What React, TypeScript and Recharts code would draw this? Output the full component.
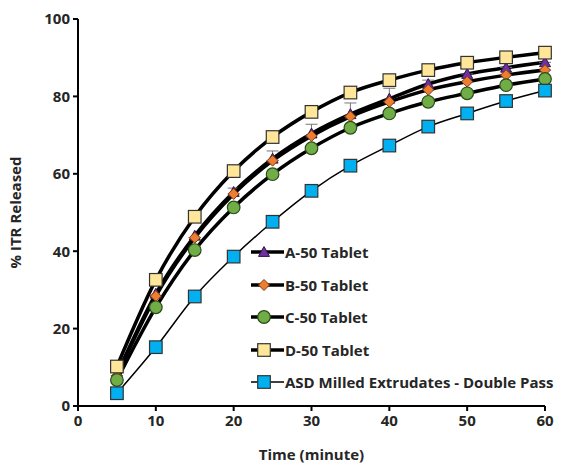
import React from 'react';
import { LineChart, Line, XAxis, YAxis, Legend, ErrorBar } from 'recharts';

const times = [5, 10, 15, 20, 25, 30, 35, 40, 45, 50, 55, 60];
const seriesA = [8.2, 29.0, 44.0, 55.3, 63.9, 70.4, 75.4, 79.4, 83.2, 85.8, 87.4, 88.8];
const seriesB = [7.8, 28.4, 43.5, 54.8, 63.4, 69.8, 74.8, 78.6, 81.7, 83.8, 85.5, 86.8];
const seriesC = [6.7, 25.5, 40.3, 51.3, 59.9, 66.6, 71.9, 75.6, 78.6, 80.8, 82.9, 84.5];
const seriesD = [10.2, 32.6, 48.9, 60.7, 69.5, 76.0, 81.0, 84.2, 86.8, 88.7, 90.1, 91.3];
const seriesASD = [3.3, 15.2, 28.3, 38.6, 47.6, 55.6, 62.1, 67.3, 72.2, 75.6, 78.8, 81.5];
const errUpB = [0, 0, 0, 1.5, 2.5, 3, 3.5, 3.5, 2.5, 2, 2, 2];
const seriesNames = ['A-50 Tablet', 'B-50 Tablet', 'C-50 Tablet', 'D-50 Tablet', 'ASD Milled Extrudates - Double Pass'];
const xTicks = [0, 10, 20, 30, 40, 50, 60];
const yTicks = [0, 20, 40, 60, 80, 100];

const data = times.map((t, i) => ({
  t,
  a: seriesA[i],
  b: seriesB[i],
  c: seriesC[i],
  d: seriesD[i],
  asd: seriesASD[i],
  bErr: [0, errUpB[i]],
}));

const FONT = "'Open Sans', 'DejaVu Sans', sans-serif";
const TEXT = '#262626';

type Shape = 'triangle' | 'diamond' | 'circle' | 'squareY' | 'squareB';

function Marker({ shape, cx, cy }: { shape: Shape; cx: number; cy: number }) {
  if (shape === 'triangle') {
    const s = 5.5;
    return (
      <polygon
        points={`${cx},${cy - s} ${cx + s},${cy + s * 0.8} ${cx - s},${cy + s * 0.8}`}
        fill="#7030A0"
        stroke="#2e1446"
        strokeWidth={1}
      />
    );
  }
  if (shape === 'diamond') {
    const s = 5.5;
    return (
      <polygon
        points={`${cx},${cy - s} ${cx + s},${cy} ${cx},${cy + s} ${cx - s},${cy}`}
        fill="#ED7D31"
        stroke="#7a3a10"
        strokeWidth={1}
      />
    );
  }
  if (shape === 'circle') {
    return <circle cx={cx} cy={cy} r={6.3} fill="#70AD47" stroke="#2b4a1a" strokeWidth={1.2} />;
  }
  const fill = shape === 'squareY' ? '#FFE699' : '#00B0F0';
  const h = 6.3;
  return <rect x={cx - h} y={cy - h} width={h * 2} height={h * 2} fill={fill} stroke="#333" strokeWidth={1.2} />;
}

const makeDot = (shape: Shape, prefix: string) => (props: any) => {
  const { cx, cy, index } = props;
  if (cx == null || cy == null) return <g key={`${prefix}-${index}`} />;
  return (
    <g key={`${prefix}-${index}`}>
      <Marker shape={shape} cx={cx} cy={cy} />
    </g>
  );
};

const legendShapes: Shape[] = ['triangle', 'diamond', 'circle', 'squareY', 'squareB'];
const legendWidths = [3.5, 3.5, 3.5, 3.5, 1.5];

function LegendContent() {
  return (
    <div style={{ width: 316 }}>
      {seriesNames.map((name, i) => (
        <div key={name} style={{ display: 'flex', alignItems: 'center', height: 32.5 }}>
          <svg width={34} height={20} style={{ flex: 'none' }}>
            <line x1={0} y1={10} x2={33} y2={10} stroke="#000" strokeWidth={legendWidths[i]} />
            <Marker shape={legendShapes[i]} cx={13} cy={10} />
          </svg>
          <span
            style={{
              fontFamily: FONT,
              fontWeight: 700,
              fontSize: 15,
              color: TEXT,
              whiteSpace: 'nowrap',
              marginLeft: 0,
            }}
          >
            {name}
          </span>
        </div>
      ))}
    </div>
  );
}

export default function App() {
  const tickStyle = { fill: TEXT, fontSize: 15, fontWeight: 700, fontFamily: FONT };
  return (
    <div style={{ position: 'absolute', left: 0, top: 0 }}>
      <LineChart
        width={567}
        height={466}
        data={data}
        margin={{ top: 19, right: 22, bottom: 0, left: 0 }}
      >
        <XAxis
          dataKey="t"
          type="number"
          domain={[0, 60]}
          ticks={xTicks}
          interval={0}
          stroke="#000"
          strokeWidth={2}
          tickSize={5}
          tickMargin={4}
          tick={tickStyle}
          height={60}
          label={{
            value: 'Time (minute)',
            position: 'insideBottom',
            offset: 6,
            style: { fill: TEXT, fontSize: 15, fontWeight: 700, fontFamily: FONT },
          }}
        />
        <YAxis
          type="number"
          domain={[0, 100]}
          ticks={yTicks}
          interval={0}
          stroke="#000"
          strokeWidth={2}
          tickSize={5}
          tickMargin={3}
          tick={tickStyle}
          width={78}
          label={{
            value: '% ITR Released',
            angle: -90,
            position: 'insideLeft',
            offset: 16,
            style: { fill: TEXT, fontSize: 15, fontWeight: 700, fontFamily: FONT, textAnchor: 'middle' },
          }}
        />
        <Legend
          layout="vertical"
          align="center"
          verticalAlign="middle"
          content={<LegendContent />}
          wrapperStyle={{ position: 'absolute', left: 251, top: 236, width: 316 }}
        />
        <Line
          dataKey="a"
          type="monotone"
          stroke="#000"
          strokeWidth={3.5}
          dot={makeDot('triangle', 'a')}
          activeDot={false}
          isAnimationActive={false}
        />
        <Line
          dataKey="b"
          type="monotone"
          stroke="#000"
          strokeWidth={3.5}
          dot={makeDot('diamond', 'b')}
          activeDot={false}
          isAnimationActive={false}
        >
          <ErrorBar dataKey="bErr" direction="y" width={6} stroke="#777" strokeWidth={1} />
        </Line>
        <Line
          dataKey="c"
          type="monotone"
          stroke="#000"
          strokeWidth={3.5}
          dot={makeDot('circle', 'c')}
          activeDot={false}
          isAnimationActive={false}
        />
        <Line
          dataKey="d"
          type="monotone"
          stroke="#000"
          strokeWidth={3.5}
          dot={makeDot('squareY', 'd')}
          activeDot={false}
          isAnimationActive={false}
        />
        <Line
          dataKey="asd"
          type="monotone"
          stroke="#000"
          strokeWidth={1.5}
          dot={makeDot('squareB', 'asd')}
          activeDot={false}
          isAnimationActive={false}
        />
      </LineChart>
    </div>
  );
}
